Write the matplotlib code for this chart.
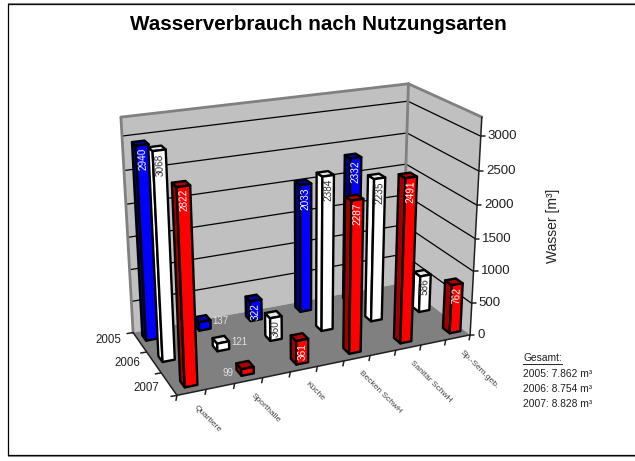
import numpy as np
import matplotlib
matplotlib.use('Agg')
import matplotlib.pyplot as plt
from matplotlib.patches import Polygon

plt.rcParams['font.family'] = ['Liberation Sans', 'DejaVu Sans']

# data, None means no bar in that year
categories = ['Quartiere', 'Sporthalle', 'Küche', 'Becken SchwH', 'Sanitär SchwH', 'Sp.-Sem.geb.']
years = ['2005', '2006', '2007']
werte_2005 = [2940, 137, 322, 2033, 2332, None]
werte_2006 = [3068, 121, 360, 2384, 2235, 586]
werte_2007 = [2822, 99, 361, 2287, 2491, 762]
z_ticks = [0, 500, 1000, 1500, 2000, 2500, 3000]
gesamt = ['2005: 7.862 m³', '2006: 8.754 m³', '2007: 8.828 m³']

Z_TOP = 3270
N_SLOTS = 11

# camera: fit a perspective matrix from the box corners seen in the picture
box = [(0, 0, 0), (1, 0, 0), (0, 1, 0), (1, 1, 0), (1, 0, 1), (1, 1, 1), (0, 1, 1)]
pix = [(177, 395), (470, 335), (133, 333), (404, 281), (482, 117), (408, 84), (121, 117)]
weights = [2, 4, 2, 1, 3, 2, 2]
A = []
b = []
for (X, Y, Z), (u, v), w in zip(box, pix, weights):
    A.append([w * k for k in [X, Y, Z, 1, 0, 0, 0, 0, -u * X, -u * Y, -u * Z]])
    A.append([w * k for k in [0, 0, 0, 0, X, Y, Z, 1, -v * X, -v * Y, -v * Z]])
    b += [w * u, w * v]
P = np.linalg.lstsq(np.array(A, float), np.array(b, float), rcond=None)[0]
P = np.append(P, 1).reshape(3, 4)


def proj(cat, ser, val):
    # cat in slots 0..11, ser in rows 0..3 from the front, val in m3
    h = P @ np.array([cat / N_SLOTS, ser / 3, val / Z_TOP, 1])
    return h[0] / h[2], h[1] / h[2]


def line(ax, p, q, **kw):
    ax.plot([p[0], q[0]], [p[1], q[1]], solid_capstyle='round', **kw)


def poly(ax, pts, fc, ec='black', lw=0, z=2):
    ax.add_patch(Polygon(pts, closed=True, facecolor=fc, edgecolor=ec, linewidth=lw,
                         joinstyle='round', zorder=z))


fig = plt.figure(figsize=(6.35, 4.61), dpi=100)
ax = fig.add_axes([0, 0, 1, 1])
ax.set_xlim(0, 635)
ax.set_ylim(461, 0)
ax.axis('off')

# frame
ax.plot([635, 8, 8, 635], [4.5, 4.5, 455, 455], color='black', lw=0.9)
ax.plot([8, 635], [3.5, 3.5], color='#808080', lw=0.8)
ax.plot([8, 635], [456, 456], color='#808080', lw=0.8)

ax.text(318, 24, 'Wasserverbrauch nach Nutzungsarten', fontsize=14.85, fontweight='bold',
        ha='center', va='center', color='black')

# walls and floor
poly(ax, [proj(0, 3, 0), proj(11, 3, 0), proj(11, 3, Z_TOP), proj(0, 3, Z_TOP)], '#c0c0c0')
poly(ax, [proj(11, 3, 0), proj(11, 0, 0), proj(11, 0, Z_TOP), proj(11, 3, Z_TOP)], '#c0c0c0')
poly(ax, [proj(0, 0, 0), proj(11, 0, 0), proj(11, 3, 0), proj(0, 3, 0)], '#808080')
for t in z_ticks[1:]:
    line(ax, proj(0, 3, t), proj(11, 3, t), color='black', lw=0.9)
    line(ax, proj(11, 3, t), proj(11, 0, t), color='black', lw=0.9)
grey = dict(color='#808080', lw=2)
line(ax, proj(0, 3, 0), proj(0, 3, Z_TOP), **grey)
line(ax, proj(0, 3, Z_TOP), proj(11, 3, Z_TOP), **grey)
line(ax, proj(11, 3, Z_TOP), proj(11, 0, Z_TOP), **grey)
line(ax, proj(11, 3, 0), proj(11, 3, Z_TOP), **grey)

# axes
ax_line = dict(color='#202020', lw=1.1)
line(ax, proj(0, 0, 0), proj(11, 0, 0), **ax_line)
line(ax, proj(0, 0, 0), proj(0, 3, 0), **ax_line)
line(ax, proj(11, 0, 0), proj(11, 0, Z_TOP), **ax_line)
for i in range(N_SLOTS + 1):
    x, y = proj(i, 0, 0)
    line(ax, (x, y), (x - 1, y + 5), **ax_line)
for s in range(4):
    x, y = proj(0, s, 0)
    line(ax, (x, y), (x - 6, y + 1), **ax_line)
for t in z_ticks:
    x, y = proj(11, 0, t)
    line(ax, (x, y), (x + 4, y), **ax_line)
    ax.text(x + 7, y, str(t), fontsize=9.5, ha='left', va='center', color='#202020')

# category and year labels
for i, c in enumerate(categories):
    x, y = proj(2 * i + 0.5, 0, 0)
    ax.text(x + 3, y + 14, c, fontsize=6, rotation=-45, rotation_mode='anchor',
            ha='left', va='center', color='#404040')
year_off = [(-18, -2), (-14, 1), (-10, 4)]
for s, yr in enumerate(years):
    x, y = proj(0, 2.5 - s, 0)
    ax.text(x + year_off[s][0], y + year_off[s][1], yr, fontsize=8.3, ha='right', va='center', color='#202020')

ax.text(553, 226, 'Wasser [m³]', fontsize=10, rotation=90, ha='center', va='center', color='#202020')
ax.text(523, 358, 'Gesamt:', fontsize=7.4, ha='left', va='center', color='#202020')
ax.plot([523, 562], [364, 364], color='#202020', lw=0.7)
for i, g in enumerate(gesamt):
    ax.text(523, 374 + 15 * i, g, fontsize=7.4, ha='left', va='center', color='#202020')

# bars, back row first so the front ones cover them
rows = [
    (werte_2005, 2.65, 0.06, '#0000ff', '#000080', '#0000a0', 'white'),
    (werte_2006, 1.58, 0.1, '#ffffff', '#ffffff', '#e8e8e8', '#303030'),
    (werte_2007, 0.38, 0.22, '#ff0000', '#a00000', '#b00000', 'white'),
]
small_off = {137: (16, 0), 121: (16, 0), 99: (-20, 5)}
W = 0.44
D = 0.28
for n, (werte, s, shift, col, side, top, txt) in enumerate(rows):
    for i, v in enumerate(werte):
        if v is None:
            continue
        c0 = 2 * i + 0.4 - W / 2 + shift
        c1 = c0 + W
        s0 = s - D / 2
        s1 = s0 + D
        poly(ax, [proj(c0, s0, 0), proj(c0, s1, 0), proj(c0, s1, v), proj(c0, s0, v)], side, lw=1.7, z=3 + n)
        poly(ax, [proj(c0, s0, v), proj(c0, s1, v), proj(c1, s1, v), proj(c1, s0, v)], top, lw=1.7, z=3 + n)
        poly(ax, [proj(c0, s0, 0), proj(c1, s0, 0), proj(c1, s0, v), proj(c0, s0, v)], col, lw=1.7, z=3 + n)
        mid = (c0 + c1) / 2
        x, y = proj(mid, s0, v)
        if v > 200:
            xb, yb = proj(mid, s0, 0)
            rot = np.degrees(np.arctan2(yb - y, x - xb))
            ax.text(x, y + 3, str(v), fontsize=7.2, rotation=rot, rotation_mode='anchor',
                    ha='right', va='center', color=txt, zorder=3.5 + n)
        else:
            dx, dy = small_off[v]
            ax.text(x + dx, y + dy, str(v), fontsize=7, ha='center', va='center',
                    color='#e0e0e0', zorder=7)

fig.savefig('out.png', dpi=100)
